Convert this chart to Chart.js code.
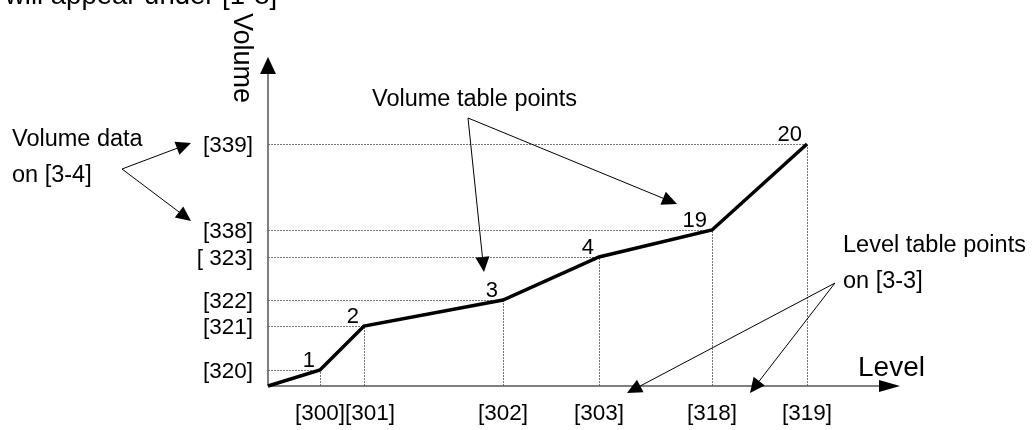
<!DOCTYPE html>
<html>
<head>
<meta charset="utf-8">
<script src="https://cdn.jsdelivr.net/npm/chart.js@4.4.0/dist/chart.umd.min.js"></script>
<style>
  html, body { margin: 0; padding: 0; background: #fff; }
  #wrap { width: 1035px; height: 430px; }
</style>
</head>
<body>
<div id="wrap"><canvas id="chart"></canvas></div>
<script>
// level table points (x axis) and volume table points (y axis)
const levelLabels = ["[300]", "[301]", "[302]", "[303]", "[318]", "[319]"];
const levelValues = [52, 96, 235, 331, 444, 539];
const volumeLabels = ["[320]", "[321]", "[322]", "[ 323]", "[338]", "[339]"];
const volumeValues = [16, 60, 86, 129, 156, 242];
const pointNames = ["1", "2", "3", "4", "19", "20"];
const xMax = 632;
const yMax = 329;

// callout arrows, in axis units: [from x, from y, to x, to y]
const calloutArrows = [
  [-146, 217, -77, 243],
  [-146, 217, -77, 165],
  [200, 268, 216, 114],
  [200, 268, 409, 182],
  [567, 103, 359, -7],
  [567, 103, 482, -7],
];

const FONT = '"Liberation Sans", Arial, sans-serif';

const curve = [{ x: 0, y: 0 }].concat(
  levelValues.map((x, i) => ({ x: x, y: volumeValues[i] }))
);

function arrowHead(ctx, x1, y1, x2, y2, len, half) {
  const a = Math.atan2(y2 - y1, x2 - x1);
  const bx = x2 - len * Math.cos(a);
  const by = y2 - len * Math.sin(a);
  ctx.beginPath();
  ctx.moveTo(x2, y2);
  ctx.lineTo(bx + half * Math.sin(a), by - half * Math.cos(a));
  ctx.lineTo(bx - half * Math.sin(a), by + half * Math.cos(a));
  ctx.closePath();
  ctx.fill();
  return [bx, by];
}

const diagramPlugin = {
  id: "diagram",
  beforeDatasetsDraw(chart) {
    const ctx = chart.ctx;
    const xs = chart.scales.x, ys = chart.scales.y;
    const x0 = xs.getPixelForValue(0), y0 = ys.getPixelForValue(0);
    ctx.save();
    // guide lines from the axes to each point
    ctx.strokeStyle = "#777";
    ctx.lineWidth = 1;
    ctx.setLineDash([2, 1]);
    levelValues.forEach((v, i) => {
      const px = Math.round(xs.getPixelForValue(v)) + 0.5;
      const py = Math.round(ys.getPixelForValue(volumeValues[i])) + 0.5;
      ctx.beginPath();
      ctx.moveTo(x0, py);
      ctx.lineTo(px, py);
      ctx.moveTo(px, y0);
      ctx.lineTo(px, py);
      ctx.stroke();
    });
    ctx.setLineDash([]);
    // axes with arrow heads
    ctx.strokeStyle = "#555";
    ctx.fillStyle = "#000";
    ctx.lineWidth = 1.5;
    const yTop = ys.getPixelForValue(yMax);
    const xEnd = xs.getPixelForValue(xMax);
    ctx.beginPath();
    ctx.moveTo(x0, y0);
    ctx.lineTo(x0, yTop + 10);
    ctx.moveTo(x0, y0);
    ctx.lineTo(xEnd - 10, y0);
    ctx.stroke();
    arrowHead(ctx, x0, y0, x0, yTop, 17, 8);
    arrowHead(ctx, x0, y0, xEnd, y0, 21, 6);
    ctx.restore();
  },
  afterDatasetsDraw(chart) {
    const ctx = chart.ctx;
    const xs = chart.scales.x, ys = chart.scales.y;
    const x0 = xs.getPixelForValue(0), y0 = ys.getPixelForValue(0);
    ctx.save();
    ctx.fillStyle = "#000";
    ctx.strokeStyle = "#000";

    // tick labels
    ctx.font = "22.5px " + FONT;
    ctx.textBaseline = "alphabetic";
    ctx.textAlign = "left";
    let prevRight = -1e9;
    levelValues.forEach((v, i) => {
      const w = ctx.measureText(levelLabels[i]).width;
      let left = xs.getPixelForValue(v) - w / 2;
      if (left < prevRight) left = prevRight;
      ctx.fillText(levelLabels[i], left, y0 + 34);
      prevRight = left + w;
    });
    ctx.textAlign = "right";
    ctx.textBaseline = "middle";
    volumeValues.forEach((v, i) => {
      ctx.fillText(volumeLabels[i], x0 - 15, ys.getPixelForValue(v) + 2);
    });

    // point numbers
    ctx.font = "22px " + FONT;
    ctx.textBaseline = "alphabetic";
    pointNames.forEach((n, i) => {
      const px = xs.getPixelForValue(levelValues[i]);
      const py = ys.getPixelForValue(volumeValues[i]);
      ctx.fillText(n, px - 5, py - 3);
    });

    // axis titles
    ctx.textAlign = "left";
    ctx.font = "28px " + FONT;
    ctx.fillText("Level", 858, 376);
    ctx.save();
    ctx.font = "27px " + FONT;
    ctx.translate(234, 13);
    ctx.rotate(Math.PI / 2);
    ctx.fillText("Volume", 0, 0);
    ctx.restore();

    // captions
    ctx.font = "27.5px " + FONT;
    ctx.fillText("will appear under [1-8]", 5, 4);
    ctx.font = "23.5px " + FONT;
    ctx.fillText("Volume table points", 372, 106);
    ctx.fillText("Volume data", 12, 146);
    ctx.fillText("on [3-4]", 12, 182);
    ctx.fillText("Level table points", 843, 252);
    ctx.fillText("on [3-3]", 843, 288);

    // callout arrows
    ctx.lineWidth = 1;
    calloutArrows.forEach(a => {
      const x1 = xs.getPixelForValue(a[0]), y1 = ys.getPixelForValue(a[1]);
      const x2 = xs.getPixelForValue(a[2]), y2 = ys.getPixelForValue(a[3]);
      const base = arrowHead(ctx, x1, y1, x2, y2, 15, 7);
      ctx.beginPath();
      ctx.moveTo(x1, y1);
      ctx.lineTo(base[0], base[1]);
      ctx.stroke();
    });
    ctx.restore();
  }
};

new Chart(document.getElementById("chart"), {
  type: "scatter",
  data: {
    datasets: [{
      data: curve,
      showLine: true,
      borderColor: "#000",
      borderWidth: 3.5,
      pointRadius: 0,
      tension: 0,
      clip: false,
    }],
  },
  options: {
    responsive: true,
    maintainAspectRatio: false,
    animation: false,
    layout: { padding: { left: 268, right: 135, top: 57, bottom: 44 } },
    scales: {
      x: { type: "linear", min: 0, max: xMax, display: false },
      y: { type: "linear", min: 0, max: yMax, display: false },
    },
    plugins: { legend: { display: false }, tooltip: { enabled: false } },
    events: [],
  },
  plugins: [diagramPlugin],
});
</script>
</body>
</html>
